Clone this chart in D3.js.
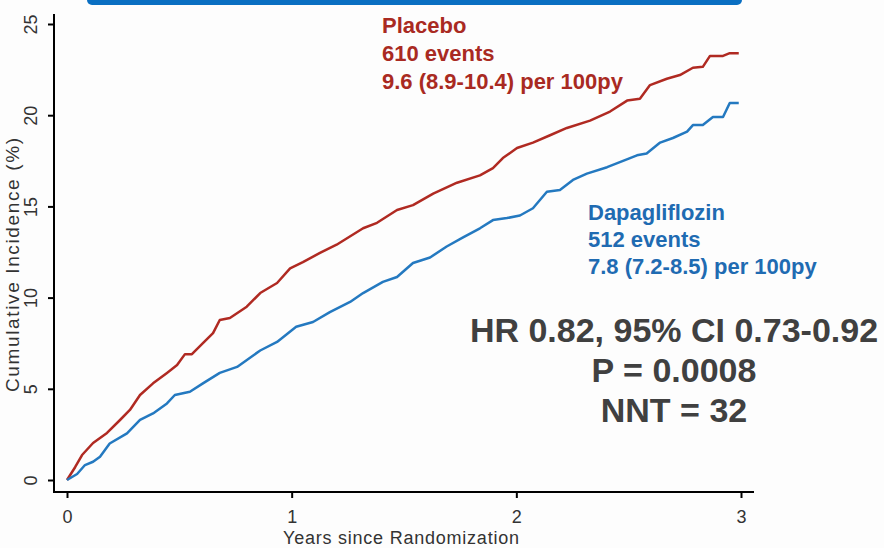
<!DOCTYPE html>
<html>
<head>
<meta charset="utf-8">
<script src="https://cdn.jsdelivr.net/npm/d3@7"></script>
<style>
  html, body { margin: 0; padding: 0; background: #fdfdfd; }
  svg { display: block; font-family: "Liberation Sans", Arial, sans-serif; }
</style>
</head>
<body>
<svg width="884" height="548"></svg>
<script>
// Cumulative incidence (years, %)
const placeboYears = [0, 0.036, 0.067, 0.116, 0.178, 0.236, 0.28, 0.325, 0.383, 0.445, 0.49, 0.525, 0.556, 0.605, 0.65, 0.68, 0.725, 0.8, 0.86, 0.935, 0.993, 1.05, 1.126, 1.2, 1.318, 1.38, 1.469, 1.54, 1.63, 1.736, 1.838, 1.896, 1.94, 2.003, 2.074, 2.15, 2.225, 2.328, 2.417, 2.493, 2.55, 2.595, 2.67, 2.728, 2.786, 2.83, 2.862, 2.92, 2.95, 2.99];
const placeboValues = [0, 0.7, 1.37, 2.03, 2.58, 3.29, 3.84, 4.66, 5.3, 5.87, 6.3, 6.9, 6.9, 7.5, 8.05, 8.77, 8.88, 9.5, 10.25, 10.8, 11.6, 11.95, 12.45, 12.9, 13.8, 14.1, 14.8, 15.07, 15.7, 16.3, 16.7, 17.1, 17.65, 18.2, 18.5, 18.9, 19.3, 19.7, 20.2, 20.8, 20.9, 21.65, 22.0, 22.2, 22.6, 22.65, 23.25, 23.25, 23.4, 23.4];

const dapaYears = [0, 0.045, 0.08, 0.116, 0.147, 0.19, 0.267, 0.325, 0.383, 0.445, 0.48, 0.547, 0.605, 0.68, 0.757, 0.86, 0.935, 1.02, 1.095, 1.17, 1.26, 1.318, 1.406, 1.469, 1.54, 1.616, 1.69, 1.763, 1.838, 1.896, 1.958, 2.016, 2.074, 2.136, 2.194, 2.252, 2.314, 2.404, 2.475, 2.537, 2.58, 2.64, 2.697, 2.76, 2.786, 2.83, 2.875, 2.92, 2.95, 2.99];
const dapaValues = [0, 0.33, 0.82, 1.0, 1.28, 2.0, 2.56, 3.3, 3.65, 4.2, 4.66, 4.84, 5.3, 5.87, 6.2, 7.1, 7.57, 8.4, 8.66, 9.2, 9.76, 10.25, 10.86, 11.13, 11.9, 12.2, 12.8, 13.3, 13.8, 14.25, 14.36, 14.5, 14.9, 15.8, 15.9, 16.45, 16.8, 17.15, 17.5, 17.8, 17.9, 18.5, 18.75, 19.1, 19.46, 19.46, 19.9, 19.9, 20.67, 20.67];

const xTicks = [0, 1, 2, 3];
const yTicks = [0, 5, 10, 15, 20, 25];

const placeboLabel = ["Placebo", "610 events", "9.6 (8.9-10.4) per 100py"];
const dapaLabel = ["Dapagliflozin", "512 events", "7.8 (7.2-8.5) per 100py"];
const statsLabel = ["HR 0.82, 95% CI 0.73-0.92", "P = 0.0008", "NNT = 32"];

const red = "#b02a22";
const blue = "#2479c0";

let svg = d3.select("svg");

// blue banner at the top edge
svg.append("rect")
   .attr("x", 87).attr("y", -10)
   .attr("width", 655).attr("height", 15)
   .attr("rx", 5)
   .attr("fill", "#0a6fc2");

let x = d3.scaleLinear().domain([0, 3]).range([67, 741]);
let y = d3.scaleLinear().domain([0, 25]).range([480, 24]);

// axis lines
svg.append("line").attr("x1", 54).attr("x2", 54).attr("y1", 14).attr("y2", 493)
   .attr("stroke", "#000").attr("stroke-width", 2);
svg.append("line").attr("x1", 53).attr("x2", 754).attr("y1", 492).attr("y2", 492)
   .attr("stroke", "#000").attr("stroke-width", 2);

// y axis
let gy = svg.append("g")
    .attr("transform", "translate(54,0)")
    .call(d3.axisLeft(y).tickValues(yTicks).tickSize(6));
gy.select(".domain").remove();
gy.selectAll(".tick line").attr("stroke-width", 2);
gy.selectAll(".tick text")
  .attr("transform", "rotate(-90)")
  .attr("x", 0).attr("y", -17).attr("dy", 0)
  .attr("text-anchor", "middle")
  .attr("font-size", 18)
  .attr("font-family", "Liberation Sans, Arial, sans-serif")
  .attr("fill", "#333");

// x axis
let gx = svg.append("g")
    .attr("transform", "translate(0,492)")
    .call(d3.axisBottom(x).tickValues(xTicks).tickSize(6).tickFormat(d3.format("d")));
gx.select(".domain").remove();
gx.selectAll(".tick line").attr("stroke-width", 2);
gx.selectAll(".tick text")
  .attr("y", 31).attr("dy", 0)
  .attr("font-size", 18)
  .attr("font-family", "Liberation Sans, Arial, sans-serif")
  .attr("fill", "#333");

// axis titles
svg.append("text")
   .attr("x", 401).attr("y", 544)
   .attr("text-anchor", "middle")
   .attr("font-size", 18)
   .attr("textLength", 236)
   .attr("fill", "#333")
   .text("Years since Randomization");

svg.append("text")
   .attr("transform", "translate(19,265) rotate(-90)")
   .attr("text-anchor", "middle")
   .attr("font-size", 19)
   .attr("textLength", 254)
   .attr("fill", "#333")
   .text("Cumulative Incidence (%)");

// curves
let line = d3.line()
    .x(d => x(d[0]))
    .y(d => y(d[1]));

let series = [
  { pts: d3.zip(placeboYears, placeboValues), color: red },
  { pts: d3.zip(dapaYears, dapaValues), color: blue }
];

svg.selectAll("path.curve")
   .data(series)
   .enter()
   .append("path")
   .attr("class", "curve")
   .attr("fill", "none")
   .attr("stroke", d => d.color)
   .attr("stroke-width", 2.5)
   .attr("stroke-linejoin", "round")
   .attr("d", d => line(d.pts));

// annotations
function textBlock(lines, xPos, yPos, step, size, color, anchor)
{
    let t = svg.append("text")
        .attr("font-size", size)
        .attr("font-weight", "bold")
        .attr("fill", color)
        .attr("text-anchor", anchor);
    lines.forEach((s, i) => {
        t.append("tspan").attr("x", xPos).attr("y", yPos + i * step).text(s);
    });
}

textBlock(placeboLabel, 382, 33, 28, 22, "#a92a22", "start");
textBlock(dapaLabel, 588, 220, 27, 22, "#1f6bb2", "start");
textBlock(statsLabel, 674, 342, 40, 34, "#404040", "middle");
</script>
</body>
</html>
